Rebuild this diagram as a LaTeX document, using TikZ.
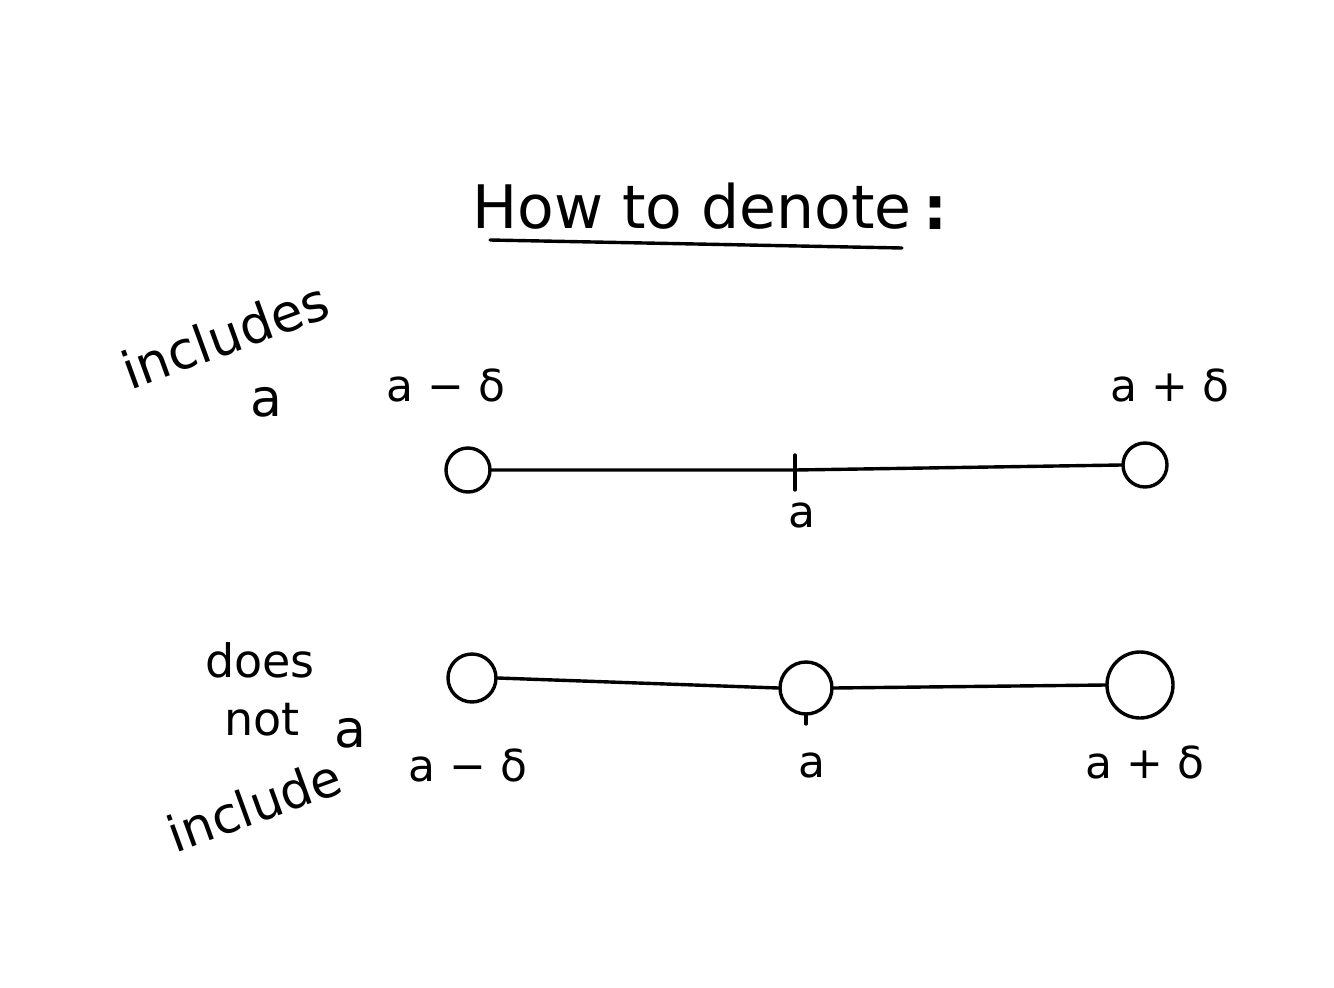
\documentclass[tikz,border=0pt]{standalone}
\usepackage{fontspec}
\setmainfont{DejaVu Sans}
\begin{document}
\begin{tikzpicture}[x=1pt,y=-1pt,
  ink/.style={line width=3.4pt,line cap=round,line join=round,black},
  hole/.style={circle,draw,line width=3.4pt,inner sep=0pt},
  lbl/.style={font=\fontsize{44}{50}\selectfont,inner sep=0pt},
  side/.style={font=\fontsize{46}{52}\selectfont,inner sep=0pt}]
\useasboundingbox (0,0) rectangle (1334,988);
\fill[white] (0,0) rectangle (1334,988);
% title
\node[font=\fontsize{60}{68}\selectfont,inner sep=0pt] (title) at (692,206) {How to denote};
\node[font=\fontsize{60}{68}\selectfont\bfseries,inner sep=0pt] (colon) at (935,213) {:};
\coordinate (ul1) at (490,240);
\coordinate (ul2) at (902,248);
\draw[ink] (ul1) -- (ul2);
% includes a
\node[side,rotate=20,font=\fontsize{52}{58}\selectfont] (inc) at (225,335) {includes};
\node[side,font=\fontsize{52}{58}\selectfont] (inca) at (266,402) {a};
% line 1
\node[hole,minimum size=44pt] (c1l) at (468,470) {};
\node[hole,minimum size=44pt] (c1r) at (1145,465) {};
\draw[ink] (c1l.east) -- (795,470) -- (c1r.west);
\coordinate (t1a) at (795,455);
\coordinate (t1b) at (795,490);
\draw[ink] (t1a) -- (t1b);
\node[lbl] (l1a) at (802,515) {a};
\node[lbl] (l1l) at (446,385) {a − δ};
\node[lbl] (l1r) at (1170,385) {a + δ};
% does not include a
\node[side] (does) at (260,660) {does};
\node[side] (not) at (262,720) {not};
\node[side,rotate=20,font=\fontsize{50}{56}\selectfont] (incl) at (254,805) {include};
\node[side,font=\fontsize{52}{58}\selectfont] (nota) at (350,733) {a};
% line 2
\node[hole,minimum size=48pt] (c2l) at (472,678) {};
\node[hole,minimum size=52pt] (c2m) at (806,688) {};
\node[hole,minimum size=66pt] (c2r) at (1140,685) {};
\draw[ink] (c2l.east) -- (c2m.west);
\draw[ink] (c2m.east) -- (c2r.west);
\coordinate (t2b) at (806,724);
\draw[ink] (c2m.south) -- (t2b);
\node[lbl] (l2l) at (468,765) {a − δ};
\node[lbl] (l2a) at (812,765) {a};
\node[lbl] (l2r) at (1145,762) {a + δ};
\end{tikzpicture}
\end{document}
